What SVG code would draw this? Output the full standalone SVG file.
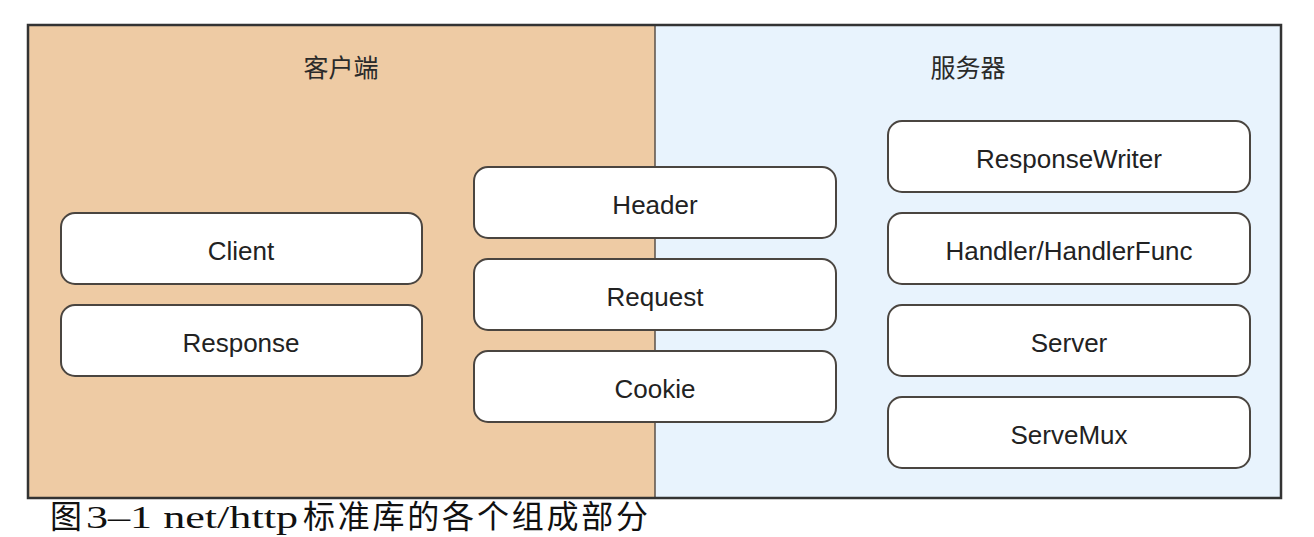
<svg xmlns="http://www.w3.org/2000/svg" width="1314" height="537" viewBox="0 0 1314 537">
  <style>
    .node rect { fill: #ffffff; stroke: #4a4540; stroke-width: 2; }
    .node text { font-family: "Liberation Sans", Arial, sans-serif; font-size: 26px; fill: #222222; text-anchor: middle; }
    .title { font-family: "Noto Sans CJK SC", sans-serif; font-size: 25px; fill: #2a2a2a; text-anchor: middle; }
    .caption { font-family: "Liberation Serif", "Noto Sans CJK SC", serif; font-size: 32px; fill: #111111; }
  </style>
  <rect width="1314" height="537" fill="#ffffff"/>
  <g id="panels">
    <rect id="client-panel" x="28" y="25" width="627" height="473" fill="#EECBA4"/>
    <rect id="server-panel" x="655" y="25" width="626" height="473" fill="#E8F3FD"/>
    <line x1="655" y1="25" x2="655" y2="498" stroke="#5a5048" stroke-width="1.5"/>
    <rect x="28" y="25" width="1253" height="473" fill="none" stroke="#333333" stroke-width="2.5"/>
    <text class="title" x="341" y="77">客户端</text>
    <text class="title" x="968" y="77">服务器</text>
  </g>
  <g id="client">
    <g class="node"><rect x="61" y="213" width="361" height="71" rx="14"/><text x="241" y="260">Client</text></g>
  </g>
  <g id="response">
    <g class="node"><rect x="61" y="305" width="361" height="71" rx="14"/><text x="241" y="352">Response</text></g>
  </g>
  <g id="header">
    <g class="node"><rect x="474" y="167" width="362" height="71" rx="14"/><text x="655" y="214">Header</text></g>
  </g>
  <g id="request">
    <g class="node"><rect x="474" y="259" width="362" height="71" rx="14"/><text x="655" y="306">Request</text></g>
  </g>
  <g id="cookie">
    <g class="node"><rect x="474" y="351" width="362" height="71" rx="14"/><text x="655" y="398">Cookie</text></g>
  </g>
  <g id="responsewriter">
    <g class="node"><rect x="888" y="121" width="362" height="71" rx="14"/><text x="1069" y="168">ResponseWriter</text></g>
  </g>
  <g id="handler">
    <g class="node"><rect x="888" y="213" width="362" height="71" rx="14"/><text x="1069" y="260">Handler/HandlerFunc</text></g>
  </g>
  <g id="server">
    <g class="node"><rect x="888" y="305" width="362" height="71" rx="14"/><text x="1069" y="352">Server</text></g>
  </g>
  <g id="servemux">
    <g class="node"><rect x="888" y="397" width="362" height="71" rx="14"/><text x="1069" y="444">ServeMux</text></g>
  </g>
  <g id="connectors"></g>
  <text class="caption" y="528"><tspan x="50">图</tspan><tspan x="86" textLength="212" lengthAdjust="spacingAndGlyphs">3–1 net/http</tspan><tspan x="303" textLength="345" lengthAdjust="spacing">标准库的各个组成部分</tspan></text>
</svg>
